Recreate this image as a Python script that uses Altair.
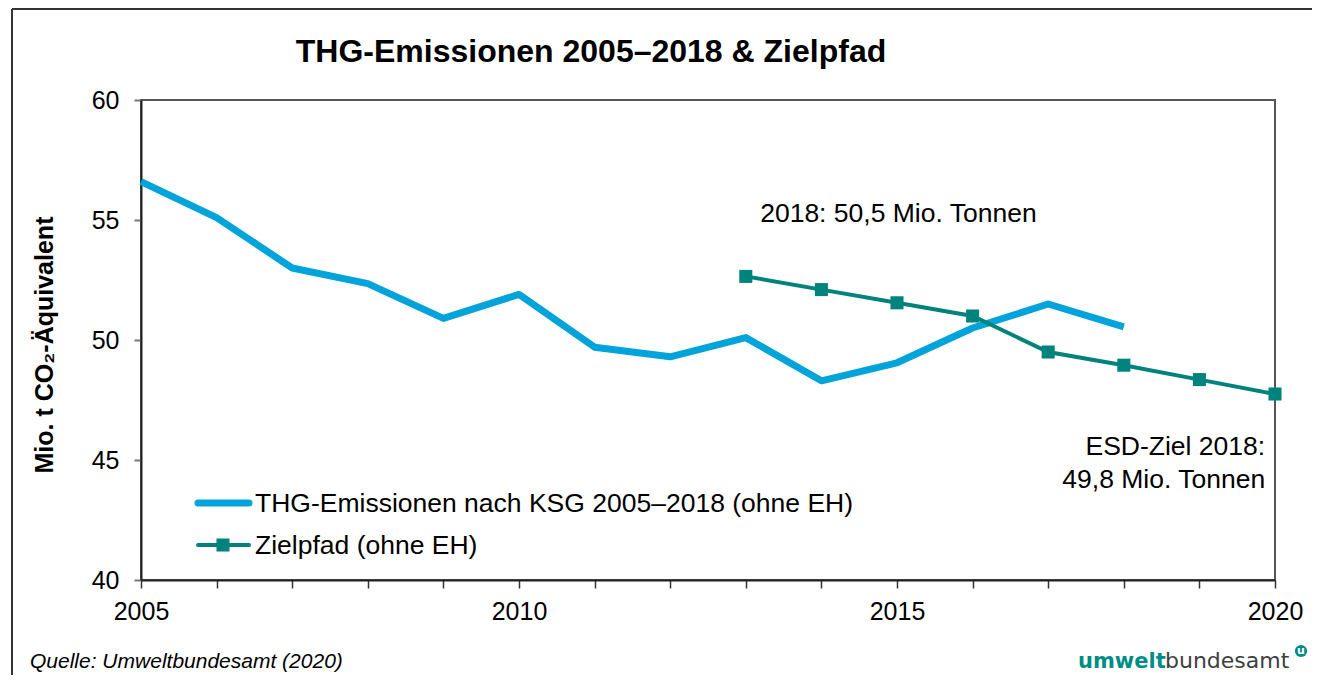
import altair as alt
import pandas as pd

# ---- data ----
years_thg = [2005, 2006, 2007, 2008, 2009, 2010, 2011, 2012, 2013, 2014, 2015, 2016, 2017, 2018]
thg_values = [56.6, 55.1, 53.0, 52.35, 50.9, 51.9, 49.7, 49.3, 50.1, 48.3, 49.05, 50.5, 51.5, 50.55]
years_ziel = [2013, 2014, 2015, 2016, 2017, 2018, 2019, 2020]
ziel_values = [52.65, 52.1, 51.55, 51.0, 49.5, 48.95, 48.35, 47.75]

series_names = ["THG-Emissionen nach KSG 2005–2018 (ohne EH)", "Zielpfad (ohne EH)"]
series_colors = ["#00A3DA", "#00827D"]

title_text = "THG-Emissionen 2005–2018 & Zielpfad"
y_title = "Mio. t CO₂-Äquivalent"
annot_top = "2018: 50,5 Mio. Tonnen"
annot_esd = ["ESD-Ziel 2018:", "49,8 Mio. Tonnen"]
source_text = "Quelle: Umweltbundesamt (2020)"
logo_parts = ["umwelt", "bundesamt", "u"]
y_ticks = [40, 45, 50, 55, 60]
x_ticks = list(range(2005, 2021))

FONT = "Liberation Sans"

df_thg = pd.DataFrame({"year": years_thg, "value": thg_values})
df_ziel = pd.DataFrame({"year": years_ziel, "value": ziel_values})
dummy = alt.Data(values=[{}])

x_enc = alt.X(
    "year:Q",
    scale=alt.Scale(domain=[2005, 2020], nice=False, zero=False),
    axis=alt.Axis(
        values=x_ticks, format="d",
        labelExpr="datum.value % 5 === 0 ? datum.label : ''",
        title=None, tickSize=8, tickColor="#333", tickWidth=1.5,
        labelPadding=11, labelFlush=False, labelOverlap=False,
        domainColor="#222", domainWidth=2, grid=False,
    ),
)
y_enc = alt.Y(
    "value:Q",
    scale=alt.Scale(domain=[40, 60], nice=False, zero=False),
    axis=alt.Axis(
        values=y_ticks, title=None, tickSize=7, tickColor="#777", tickWidth=2,
        labelPadding=15, domainColor="#222", domainWidth=2, grid=False,
    ),
)

thg_line = alt.Chart(df_thg).mark_line(
    color=series_colors[0], strokeWidth=7, strokeCap="butt", strokeJoin="round"
).encode(x=x_enc, y=y_enc)

ziel_line = alt.Chart(df_ziel).mark_line(
    color=series_colors[1], strokeWidth=4
).encode(x="year:Q", y="value:Q")

ziel_pts = alt.Chart(df_ziel).mark_square(
    color=series_colors[1], size=170, opacity=1, filled=True
).encode(x="year:Q", y="value:Q")

# ---- annotations ----
ann1 = alt.Chart(dummy).mark_text(
    font=FONT, fontSize=26.5, align="left", baseline="alphabetic", color="black"
).encode(x=alt.datum(2013.19), y=alt.datum(54.93), text=alt.value(annot_top))

ann2 = alt.Chart(dummy).mark_text(
    font=FONT, fontSize=26.5, align="right", baseline="alphabetic", color="black"
).encode(x=alt.datum(2019.87), y=alt.datum(45.2), text=alt.value(annot_esd[0]))

ann3 = alt.Chart(dummy).mark_text(
    font=FONT, fontSize=26.5, align="right", baseline="alphabetic", color="black"
).encode(x=alt.datum(2019.87), y=alt.datum(43.83), text=alt.value(annot_esd[1]))

# ---- title and axis title ----
title = alt.Chart(dummy).mark_text(
    font=FONT, fontSize=32, fontWeight="bold", align="center", baseline="alphabetic", color="black"
).encode(x=alt.value(450), y=alt.value(-38), text=alt.value(title_text))

ytitle = alt.Chart(dummy).mark_text(
    font=FONT, fontSize=25, fontWeight="bold", align="center", baseline="middle",
    angle=270, color="black"
).encode(x=alt.value(-96), y=alt.value(245), text=alt.value(y_title))

# ---- manual legend ----
leg_line1 = alt.Chart(dummy).mark_rule(
    color=series_colors[0], strokeWidth=7, strokeCap="round"
).encode(x=alt.value(57), x2=alt.value(108), y=alt.value(403))
leg_line2 = alt.Chart(dummy).mark_rule(
    color=series_colors[1], strokeWidth=4, strokeCap="round"
).encode(x=alt.value(57), x2=alt.value(108), y=alt.value(445))
leg_sq = alt.Chart(dummy).mark_square(
    color=series_colors[1], size=170, opacity=1, filled=True
).encode(x=alt.value(82), y=alt.value(445))
leg_t1 = alt.Chart(dummy).mark_text(
    font=FONT, fontSize=26.5, align="left", baseline="middle", color="black"
).encode(x=alt.value(114), y=alt.value(404), text=alt.value(series_names[0]))
leg_t2 = alt.Chart(dummy).mark_text(
    font=FONT, fontSize=26.5, align="left", baseline="middle", color="black"
).encode(x=alt.value(114), y=alt.value(446), text=alt.value(series_names[1]))

# ---- footer ----
source = alt.Chart(dummy).mark_text(
    font=FONT, fontSize=21, fontStyle="italic", align="left", baseline="alphabetic", color="black"
).encode(x=alt.value(-111), y=alt.value(568), text=alt.value(source_text))

logo1 = alt.Chart(dummy).mark_text(
    font="DejaVu Sans", fontSize=21, fontWeight="bold", align="left", baseline="alphabetic",
    color="#008C86"
).encode(x=alt.value(937), y=alt.value(568), text=alt.value(logo_parts[0]))
logo2 = alt.Chart(dummy).mark_text(
    font="DejaVu Sans", fontSize=22, align="left", baseline="alphabetic", color="#404040"
).encode(x=alt.value(1024), y=alt.value(568), text=alt.value(logo_parts[1]))
logo_dot = alt.Chart(dummy).mark_circle(
    color="#008C86", size=150, opacity=1
).encode(x=alt.value(1160), y=alt.value(551))
logo_u = alt.Chart(dummy).mark_text(
    font="DejaVu Sans", fontSize=11, fontWeight="bold", align="center", baseline="middle", color="white"
).encode(x=alt.value(1160), y=alt.value(551), text=alt.value(logo_parts[2]))

# ---- outer frame (left and top visible) ----
frame_left = alt.Chart(dummy).mark_rule(color="#333", strokeWidth=2).encode(
    x=alt.value(-129), y=alt.value(-91), y2=alt.value(700))
frame_top = alt.Chart(dummy).mark_rule(color="#333", strokeWidth=2).encode(
    x=alt.value(-129), x2=alt.value(1300), y=alt.value(-91))

chart = alt.layer(
    frame_left, frame_top,
    thg_line, ziel_line, ziel_pts,
    ann1, ann2, ann3, title, ytitle,
    leg_line1, leg_line2, leg_sq, leg_t1, leg_t2,
    source, logo1, logo2, logo_dot, logo_u,
).properties(
    width=1134, height=480,
    autosize=alt.AutoSizeParams(type="none"),
    padding={"left": 133, "top": 92, "right": 37, "bottom": 95},
    background="white",
).configure_view(
    stroke="#555", strokeWidth=2
).configure_axis(
    labelFont=FONT, labelFontSize=25, labelColor="black"
)

chart.save("out.html", embed_options={"renderer": "svg", "actions": False})
